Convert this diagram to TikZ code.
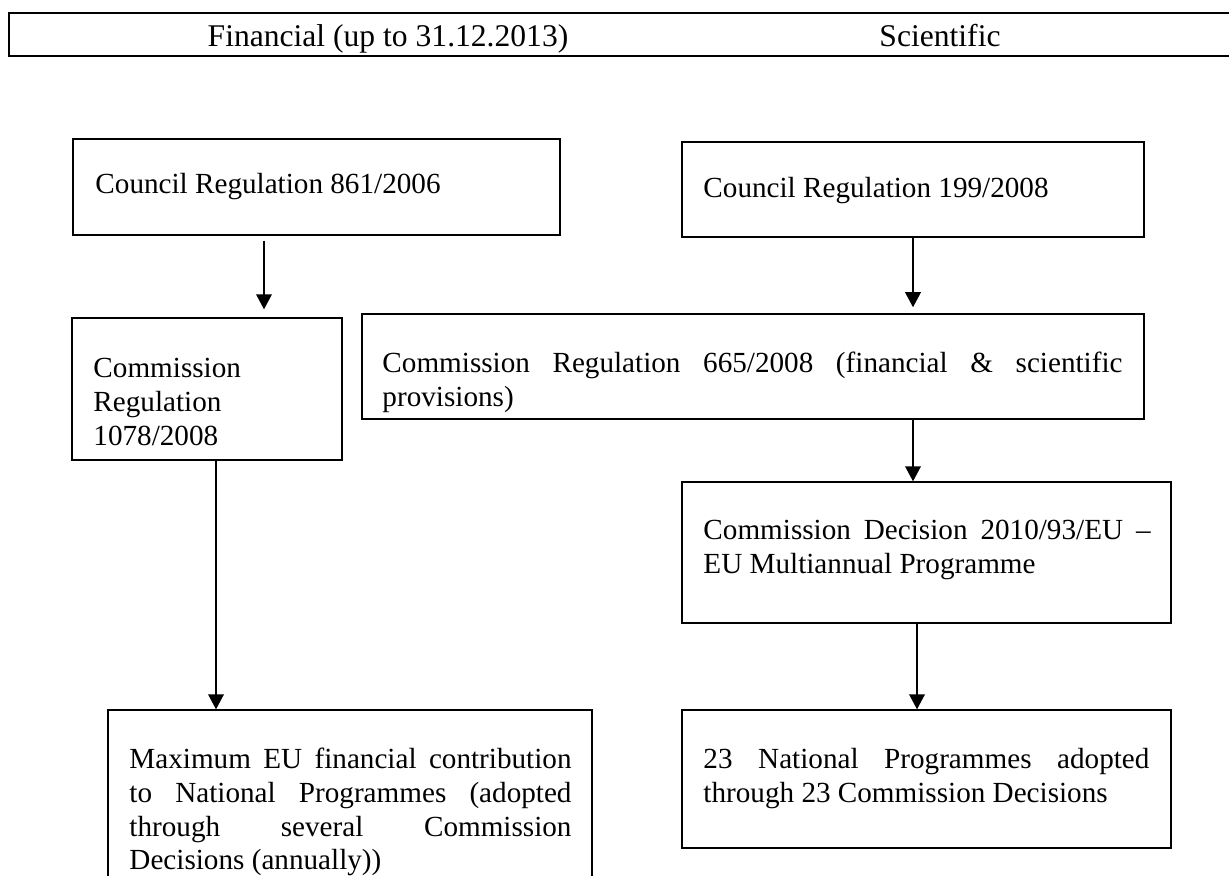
\documentclass[tikz,border=0pt]{standalone}
\usepackage{fontspec}
\setmainfont{Liberation Serif}
\usetikzlibrary{arrows.meta,fit}
\hyphenpenalty=10000
\exhyphenpenalty=10000
\hbadness=10000
\begin{document}
\begin{tikzpicture}[x=0.4115pt,y=-0.4115pt,
  boxline/.style={draw, line width=0.55pt, inner sep=0pt},
  txt/.style={inner sep=0pt, font=\fontsize{12}{13.8}\selectfont},
  para/.style={txt, anchor=north west, align=justify},
  hdrtxt/.style={inner sep=0pt, anchor=base, font=\fontsize{13}{15}\selectfont},
  arr/.style={line width=0.8pt, -{Triangle[width=6.4pt,length=6.2pt]}},
  hdr/.style={line width=0.8pt}]
\useasboundingbox (0,0) rectangle (1229,875);
\clip (0,0) rectangle (1229,875);
\fill[white] (0,0) rectangle (1229,875);

% header row
\draw[hdr] (1240,13) -- (9,13) -- (9,56) -- (1240,56);
\node[hdrtxt] (hf) at (388,46) {Financial (up to 31.12.2013)};
\node[hdrtxt] (hs) at (940,46) {Scientific};

% box corners
\coordinate (b1a) at (73,139);  \coordinate (b1b) at (560,235);
\coordinate (b2a) at (682,142); \coordinate (b2b) at (1144,237);
\coordinate (c1a) at (72,318);  \coordinate (c1b) at (342,460);
\coordinate (c2a) at (362,314); \coordinate (c2b) at (1144,419);
\coordinate (da)  at (682,482); \coordinate (db)  at (1171,623);
\coordinate (ma)  at (108,710); \coordinate (mb)  at (592,910);
\coordinate (na)  at (682,710); \coordinate (nb)  at (1171,848);

\node[boxline, fit=(b1a)(b1b)] (b1) {};
\node[boxline, fit=(b2a)(b2b)] (b2) {};
\node[boxline, fit=(c1a)(c1b)] (c1) {};
\node[boxline, fit=(c2a)(c2b)] (c2) {};
\node[boxline, fit=(da)(db)] (d) {};
\node[boxline, fit=(ma)(mb)] (m) {};
\node[boxline, fit=(na)(nb)] (n) {};

% texts
\node[txt, anchor=base west] (t1) at (95,193) {Council Regulation 861/2006};
\node[txt, anchor=base west] (t2) at (703,197) {Council Regulation 199/2008};
\node[para, align=left, text width=94.6pt] (tc1) at (93,354)
  {\strut Commission\\Regulation\\1078/2008};
\node[para, text width=304.5pt] (tc2) at (382,349)
  {\strut Commission Regulation 665/2008 (financial \& scientific\linebreak provisions)};
\node[para, text width=184pt] (td) at (703,516)
  {\strut Commission Decision 2010/93/EU –\linebreak EU Multiannual Programme};
\node[para, text width=181.9pt] (tm) at (129,745)
  {\strut Maximum EU financial contribution\linebreak to National Programmes (adopted\linebreak through several Commission\linebreak Decisions (annually))};
\node[para, text width=183.5pt] (tn) at (703,745)
  {\strut 23 National Programmes adopted\linebreak through 23 Commission Decisions};

% arrow columns
\coordinate (xa) at (264,0);
\coordinate (xb) at (913,0);
\coordinate (xc) at (216,0);
\coordinate (xd) at (913,0);
\coordinate (xe) at (917,0);

\draw[arr, shorten <=2pt, shorten >=3.3pt] (b1.south -| xa) -- (c1.north -| xa);
\draw[arr, shorten >=2.5pt] (b2.south -| xb) -- (c2.north -| xb);
\draw[arr] (c1.south -| xc) -- (m.north -| xc);
\draw[arr] (c2.south -| xd) -- (d.north -| xd);
\draw[arr] (d.south -| xe) -- (n.north -| xe);
\end{tikzpicture}
\end{document}
